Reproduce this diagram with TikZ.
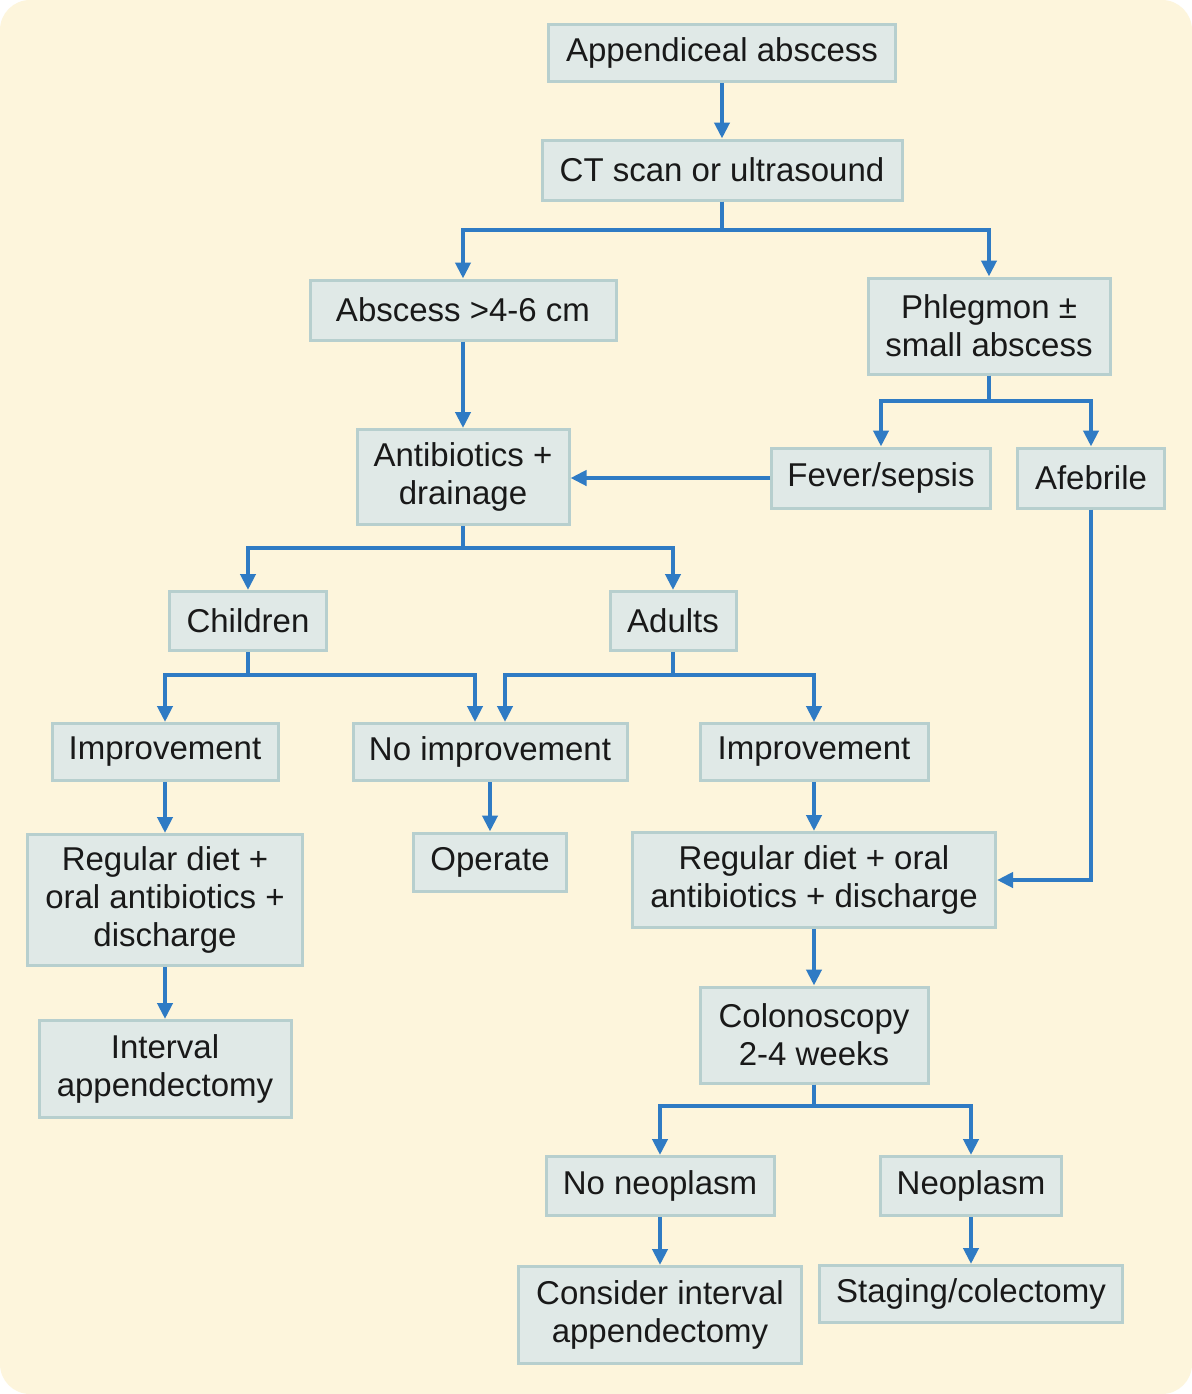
\documentclass[tikz,border=0pt]{standalone}
\usepackage{fontspec}
\setmainfont{Liberation Sans}
\usetikzlibrary{arrows.meta,calc}
\definecolor{bg}{HTML}{FDF5DC}
\definecolor{boxfill}{HTML}{E0E9E7}
\definecolor{boxedge}{HTML}{B7CFCE}
\definecolor{arrowblue}{HTML}{2F7BC4}
\begin{document}
\begin{tikzpicture}[x=0.5pt,y=-0.5pt,
 box/.style={draw=boxedge, line width=1.5pt, fill=boxfill, align=center, inner sep=0pt,
   font=\fontsize{16.5}{19}\selectfont, text=black!90},
 arr/.style={draw=arrowblue, line width=2.2pt, -{Triangle[width=7.5pt,length=8pt]}}]
\fill[white] (0,0) rectangle (1192,1394);
\fill[bg, rounded corners=15pt] (0,0) rectangle (1192,1394);
\useasboundingbox (0,0) rectangle (1192,1394);

\node[box, minimum width=173.5pt, minimum height=28.5pt] (n1) at (722,53) {Appendiceal abscess};
\node[box, minimum width=180pt, minimum height=30pt] (n2) at (722,170) {CT scan or ultrasound};
\node[box, minimum width=153pt, minimum height=30pt] (n3) at (463,310) {Abscess >4-6 cm};
\node[box, minimum width=121pt, minimum height=48pt] (n4) at (989,326) {Phlegmon ±\\small abscess};
\node[box, minimum width=106pt, minimum height=47.5pt] (n5) at (463,477) {Antibiotics +\\drainage};
\node[box, minimum width=109.5pt, minimum height=30pt] (n6) at (881,478) {Fever/sepsis};
\node[box, minimum width=73.5pt, minimum height=30pt] (n7) at (1091,478) {Afebrile};
\node[box, minimum width=78.5pt, minimum height=29.5pt] (n8) at (248,621) {Children};
\node[box, minimum width=63pt, minimum height=29.5pt] (n9) at (673,621) {Adults};
\node[box, minimum width=113pt, minimum height=28.5pt] (n10) at (165,752) {Improvement};
\node[box, minimum width=137pt, minimum height=28.5pt] (n11) at (490,752) {No improvement};
\node[box, minimum width=114pt, minimum height=28.5pt] (n12) at (814,752) {Improvement};
\node[box, minimum width=137.5pt, minimum height=65.5pt] (n13) at (165,900) {Regular diet +\\oral antibiotics +\\discharge};
\node[box, minimum width=76.5pt, minimum height=29pt] (n14) at (490,862) {Operate};
\node[box, minimum width=181.5pt, minimum height=47.5pt] (n15) at (814,880) {Regular diet + oral\\antibiotics + discharge};
\node[box, minimum width=126pt, minimum height=48.5pt] (n16) at (165,1069) {Interval\\appendectomy};
\node[box, minimum width=114pt, minimum height=48pt] (n17) at (814,1035) {Colonoscopy\\2-4 weeks};
\node[box, minimum width=114pt, minimum height=29.5pt] (n18) at (660,1186) {No neoplasm};
\node[box, minimum width=90.5pt, minimum height=29.5pt] (n19) at (971,1186) {Neoplasm};
\node[box, minimum width=141.5pt, minimum height=48.5pt] (n20) at (660,1315) {Consider interval\\appendectomy};
\node[box, minimum width=151.5pt, minimum height=28.5pt] (n21) at (971,1294) {Staging/colectomy};

\coordinate (j1) at (0,230);
\coordinate (j2) at (0,401);
\coordinate (j3) at (0,548);
\coordinate (j4) at (0,675);
\coordinate (j5) at (0,1106);

\draw[arr] (n1) -- (n2);
\draw[arr] (n2.south) -- (n2.south |- j1) -| (n3.north);
\draw[arr] (n2.south) -- (n2.south |- j1) -| (n4.north);
\draw[arr] (n3) -- (n5);
\draw[arr] (n4.south) -- (n4.south |- j2) -| (n6.north);
\draw[arr] (n4.south) -- (n4.south |- j2) -| (n7.north);
\draw[arr] (n6.west) -- (n6.west -| n5.east);
\draw[arr] (n7.south) |- (n15.east);
\draw[arr] (n5.south) -- (n5.south |- j3) -| (n8.north);
\draw[arr] (n5.south) -- (n5.south |- j3) -| (n9.north);
\draw[arr] (n8.south) -- (n8.south |- j4) -| (n10.north);
\draw[arr] (n8.south) -- (n8.south |- j4) -| ($(n11.north)+(-15,0)$);
\draw[arr] (n9.south) -- (n9.south |- j4) -| ($(n11.north)+(15,0)$);
\draw[arr] (n9.south) -- (n9.south |- j4) -| (n12.north);
\draw[arr] (n10) -- (n13);
\draw[arr] (n11) -- (n14);
\draw[arr] (n12) -- (n15);
\draw[arr] (n13) -- (n16);
\draw[arr] (n15) -- (n17);
\draw[arr] (n17.south) -- (n17.south |- j5) -| (n18.north);
\draw[arr] (n17.south) -- (n17.south |- j5) -| (n19.north);
\draw[arr] (n18) -- (n20);
\draw[arr] (n19) -- (n21);
\end{tikzpicture}
\end{document}
